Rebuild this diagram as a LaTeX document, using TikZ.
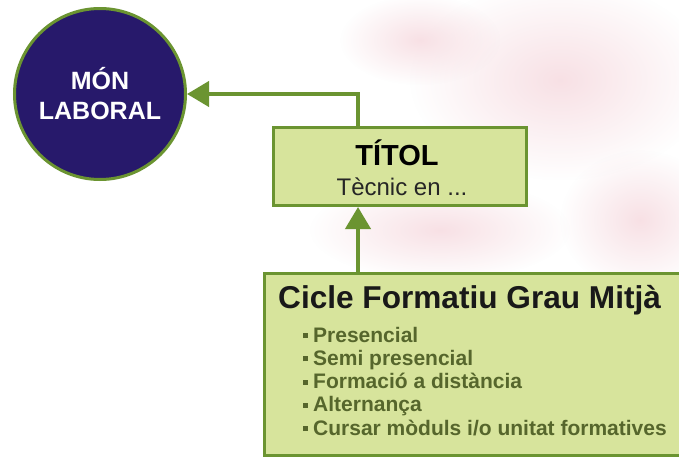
\documentclass[tikz,border=0pt]{standalone}
\usepackage{fontspec}
\setmainfont{Liberation Sans}
\usetikzlibrary{arrows.meta,positioning,fadings}
\definecolor{leaf}{HTML}{6B9431}
\definecolor{lime}{HTML}{D7E49C}
\definecolor{navy}{HTML}{27196B}
\definecolor{olive}{HTML}{56662C}
\definecolor{blush}{HTML}{F7DDE2}
\tikzfading[name=soft, inner color=transparent!10, outer color=transparent!100]

\begin{document}
\begin{tikzpicture}
[
	x=1pt, y=-1pt,
	link/.style={line width=4pt, color=leaf, -{Triangle[length=22pt,width=25pt]}},
	world/.style={circle, draw=leaf, line width=3pt, fill=navy, minimum size=171pt, text=white, align=center, font=\bfseries\fontsize{25}{30}\selectfont},
	greenbox/.style={rectangle, draw=leaf, line width=3pt, fill=lime},
	item/.style={anchor=base west, inner sep=0pt, text=olive, font=\bfseries\fontsize{21}{21}\selectfont},
	blob/.style={fill=blush, path fading=soft}
]

\def\bul{\rule[4pt]{5pt}{5pt}\hspace{5pt}}
% Background
\useasboundingbox (0,0) rectangle (679,458);
\fill[white] (0,0) rectangle (679,458);
\fill[blob] (560,80) ellipse [x radius=150pt, y radius=100pt];
\fill[blob] (440,230) ellipse [x radius=130pt, y radius=50pt];
\fill[blob] (640,220) ellipse [x radius=80pt, y radius=70pt];
\fill[blob] (420,40) ellipse [x radius=80pt, y radius=45pt];

% Draw nodes
\node[world] (mon) at (100,94) {MÓN\\LABORAL};
\node[greenbox, minimum width=253pt, minimum height=78pt] (titol) at (400,166.5) {};
\node[greenbox, minimum width=417.5pt, minimum height=182pt] (cicle) at (473.25,364.5) {};

% Draw texts
\node[anchor=base, inner sep=0pt, font=\bfseries\fontsize{29}{29}\selectfont] (titolname) at (397,165) {TÍTOL};
\node[anchor=base, inner sep=0pt, text=black!85, font=\fontsize{24}{24}\selectfont] (titolsub) at (402,195) {Tècnic en ...};
\node[anchor=base west, inner sep=0pt, text=black!90, font=\bfseries\fontsize{31.6}{31.6}\selectfont] (cicletitle) at (278,308) {Cicle Formatiu Grau Mitjà};
\foreach \txt [count=\i] in {Presencial, Semi presencial, Formació a distància, Alternança, Cursar mòduls i/o unitat formatives}
	\node[item] (item\i) at (303,{342+23.3*(\i-1)}) {\bul\txt};

% Draw connectors
\draw[link] ([xshift=86pt]titol.north west) |- (mon.east);
\draw[link] ([xshift=95pt]cicle.north west) -- ([xshift=86pt]titol.south west);

\end{tikzpicture}
\end{document}
